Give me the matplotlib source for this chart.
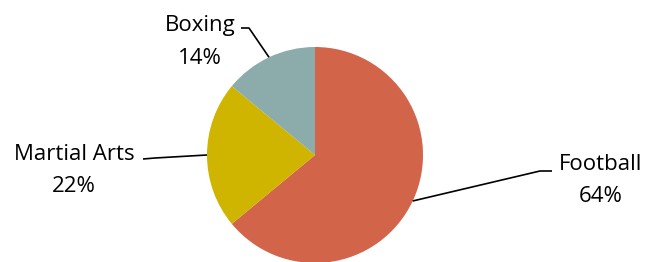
import numpy as np
import matplotlib.pyplot as plt

plt.rcParams['font.family'] = ['Open Sans', 'DejaVu Sans']

# data
sports = ["Football", "Martial Arts", "Boxing"]
shares = [64, 22, 14]
colors = ["#D2644A", "#CFB400", "#8CACAC"]

# label layout (pixel coords, y down) : text centre, elbow start, elbow end
label_pos = {
    "Football": (601, 180.5),
    "Martial Arts": (74, 170.5),
    "Boxing": (200, 41.5),
}
elbows = {
    "Football": [(552, 171), (540, 171)],
    "Martial Arts": [(143, 159), (155, 158)],
    "Boxing": [(241, 28), (249, 28)],
}

W, H = 649, 262
cx, cy, r = 315, H - 155, 108

fig = plt.figure(figsize=(W / 100, H / 100), dpi=100)
ax = fig.add_axes([0, 0, 1, 1])

wedges, _ = ax.pie(shares, colors=colors, startangle=90, counterclock=False,
                   center=(cx, cy), radius=r, frame=True,
                   wedgeprops=dict(linewidth=0))
ax.set_xlim(0, W)
ax.set_ylim(0, H)
ax.set_aspect('equal')
ax.axis('off')

for w, name, val in zip(wedges, sports, shares):
    mid = np.deg2rad((w.theta1 + w.theta2) / 2)
    ex, ey = cx + r * np.cos(mid), cy + r * np.sin(mid)
    pts = elbows[name]
    xs = [p[0] for p in pts] + [ex]
    ys = [H - p[1] for p in pts] + [ey]
    ax.plot(xs, ys, color='black', lw=1.2, solid_capstyle='butt')
    tx, ty = label_pos[name]
    ax.text(tx, H - ty, f"{name}\n{val}%", ha='center', va='center',
            fontsize=16, linespacing=1.75, color='black')

fig.savefig("out.png", dpi=100)
